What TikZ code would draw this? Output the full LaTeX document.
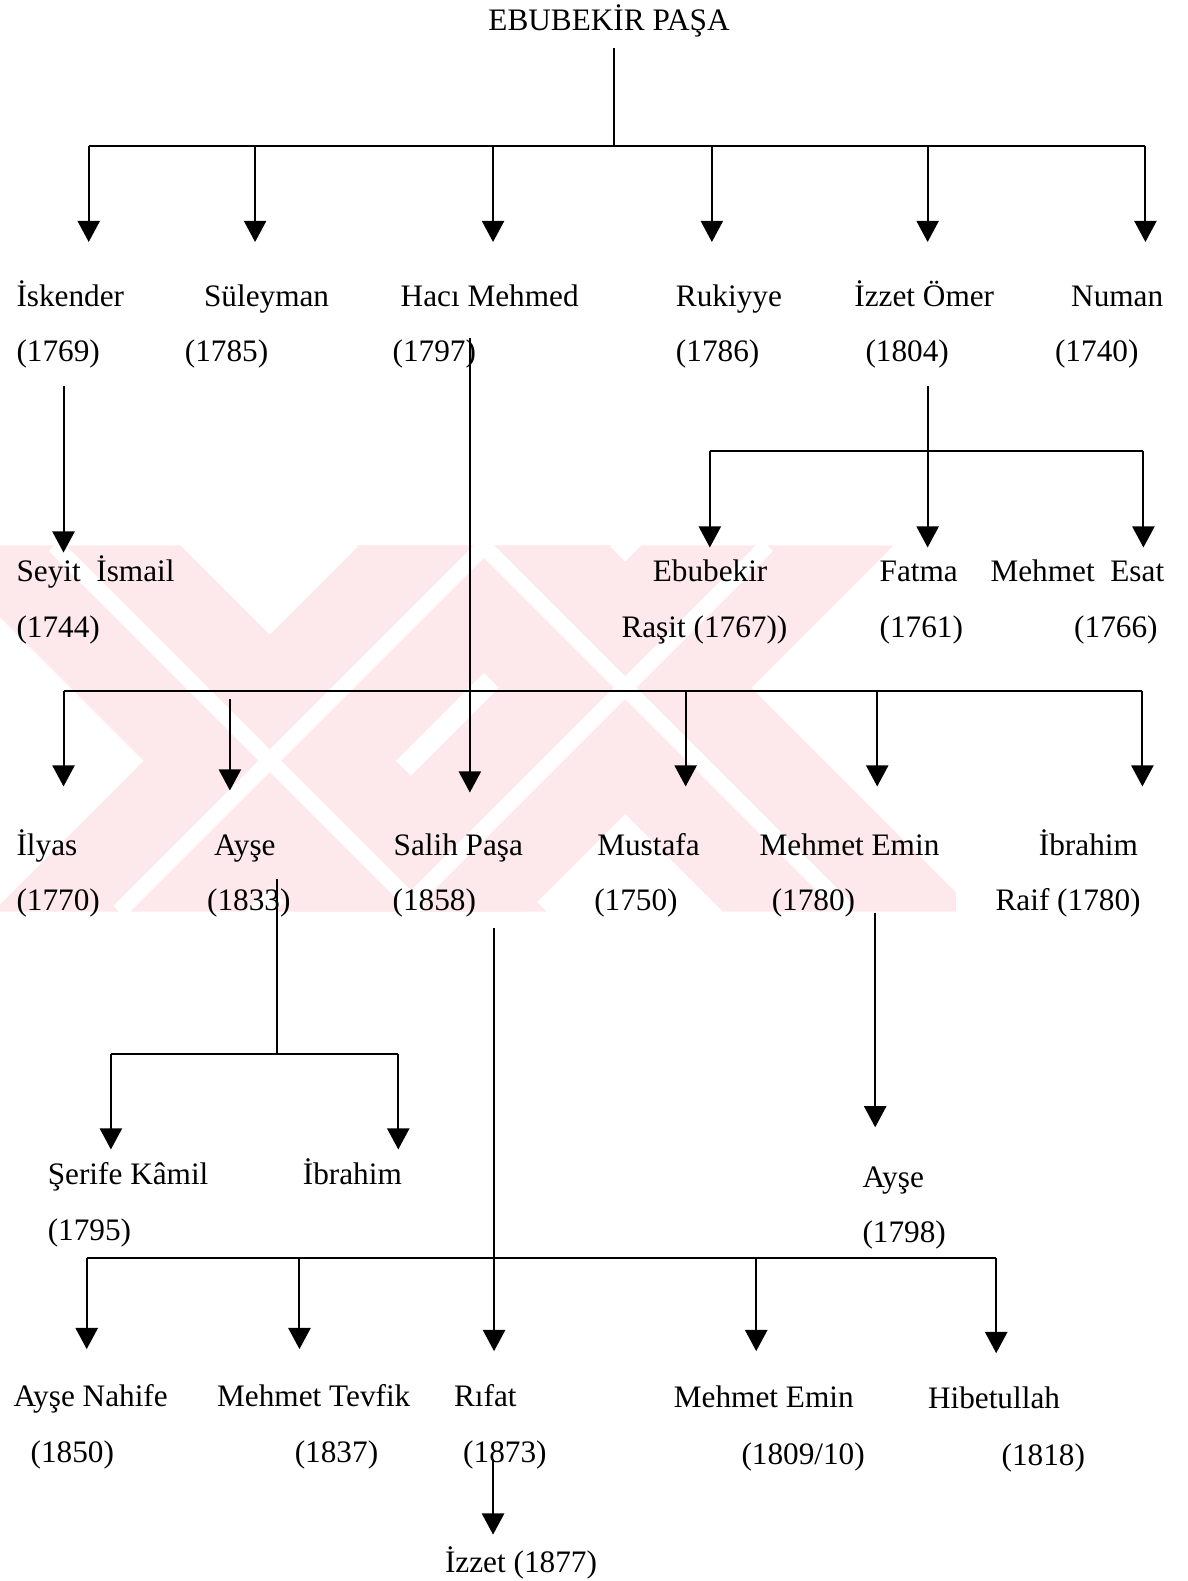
\documentclass[tikz,border=0pt]{standalone}
\usepackage{fontspec}
\setmainfont{Liberation Serif}
\usetikzlibrary{arrows.meta}

\begin{document}
\begin{tikzpicture}[x=0.5pt,y=-0.5pt]
\tikzstyle{every node}=[inner sep=0pt,anchor=base west,font=\fontsize{15.5}{18}\selectfont]
\tikzstyle{link}=[line width=1pt]
\tikzstyle{kid}=[link,-{Triangle[length=10.5pt,width=11pt]}]
\definecolor{wmpink}{RGB}{253,232,236}
\tikzstyle{wm}=[fill=wmpink]
\tikzstyle{wmgap}=[white,line width=8pt]
\useasboundingbox (0,0) rectangle (1178,1568);

\begin{scope}
\clip (0,541) rectangle (948,904);
\fill[wm] (-71,541) -- (179,541) -- (542,904) -- (292,904) -- cycle;
\fill[wm] (356,541) -- (606,541) -- (243,904) -- (-7,904) -- cycle;
\fill[wm] (354,541) -- (604,541) -- (967,904) -- (717,904) -- cycle;
\fill[wm] (636,541) -- (886,541) -- (523,904) -- (273,904) -- cycle;
\draw[wmgap] (54,541) -- (417,904);
\draw[wmgap] (481,541) -- (118,904);
\draw[wmgap] (479,541) -- (842,904);
\draw[wmgap] (761,541) -- (398,904);
\end{scope}

\node (root) at (484,30) {EBUBEKİR PAŞA};

\node (isk) at (16,304) {İskender};
\node (iskY) at (16,359) {(1769)};
\node (sul) at (202,304) {Süleyman};
\node (sulY) at (183,359) {(1785)};
\node (hac) at (397,304) {Hacı Mehmed};
\node (hacY) at (389,359) {(1797)};
\node (ruk) at (670,304) {Rukiyye};
\node (rukY) at (670,359) {(1786)};
\node (izo) at (847,304) {İzzet Ömer};
\node (izoY) at (858,359) {(1804)};
\node (num) at (1062,304) {Numan};
\node (numY) at (1046,359) {(1740)};

\node (sey) at (16,577) {Seyit\ \ İsmail};
\node (seyY) at (16,632) {(1744)};
\node (ebu) at (647,577) {Ebubekir};
\node (ebuY) at (616,632) {Raşit (1767))};
\node (fat) at (872,577) {Fatma};
\node (fatY) at (872,632) {(1761)};
\node (esa) at (982,577) {Mehmet\ \ Esat};
\node (esaY) at (1065,632) {(1766)};

\node (ily) at (16,848) {İlyas};
\node (ilyY) at (16,903) {(1770)};
\node (ay1) at (212,848) {Ayşe};
\node (ay1Y) at (205,903) {(1833)};
\node (sal) at (390,848) {Salih Paşa};
\node (salY) at (389,903) {(1858)};
\node (mus) at (592,848) {Mustafa};
\node (musY) at (589,903) {(1750)};
\node (mem) at (753,848) {Mehmet Emin};
\node (memY) at (765,903) {(1780)};
\node (ibr) at (1030,848) {İbrahim};
\node (ibrY) at (987,903) {Raif (1780)};

\node (ser) at (47,1175) {Şerife Kâmil};
\node (serY) at (47,1230) {(1795)};
\node (ib2) at (300,1175) {İbrahim};
\node (ay2) at (855,1178) {Ayşe};
\node (ay2Y) at (855,1232) {(1798)};

\node (nah) at (13,1395) {Ayşe Nahife};
\node (nahY) at (30,1450) {(1850)};
\node (tev) at (215,1395) {Mehmet Tevfik};
\node (tevY) at (292,1450) {(1837)};
\node (rif) at (450,1395) {Rıfat};
\node (rifY) at (459,1450) {(1873)};
\node (me2) at (668,1396) {Mehmet Emin};
\node (me2Y) at (735,1452) {(1809/10)};
\node (hib) at (920,1397) {Hibetullah};
\node (hibY) at (993,1453) {(1818)};
\node (izz) at (441,1560) {İzzet (1877)};

\coordinate (root-out) at (609,48);
\coordinate (b1) at (609,145);
\coordinate (isk-in) at (88,240);
\coordinate (sul-in) at (253,240);
\coordinate (hac-in) at (489,240);
\coordinate (ruk-in) at (706,240);
\coordinate (izo-in) at (920,240);
\coordinate (num-in) at (1136,240);
\draw[link] (root-out) -- (b1);
\draw[link] (isk-in |- b1) -- (num-in |- b1);
\foreach \n in {isk,sul,hac,ruk,izo,num}
  \draw[kid] (\n-in |- b1) -- (\n-in);

\coordinate (isk-out) at (63,383);
\coordinate (sey-in) at (63,548);
\draw[kid] (isk-out) -- (sey-in);
\coordinate (hac-out) at (466,335);
\coordinate (sal-in) at (466,786);
\draw[kid] (hac-out) -- (sal-in);

\coordinate (izo-out) at (920,383);
\coordinate (b2) at (920,447);
\coordinate (ebu-in) at (704,543);
\coordinate (fat-in) at (920,543);
\coordinate (esa-in) at (1134,543);
\draw[link] (izo-out) -- (b2);
\draw[link] (ebu-in |- b2) -- (esa-in |- b2);
\foreach \n in {ebu,fat,esa}
  \draw[kid] (\n-in |- b2) -- (\n-in);

\coordinate (b3) at (63,685);
\coordinate (ily-in) at (63,780);
\coordinate (ay1-in) at (228,784);
\coordinate (mus-in) at (680,780);
\coordinate (mem-in) at (870,780);
\coordinate (ibr-in) at (1133,780);
\draw[link] (ily-in |- b3) -- (ibr-in |- b3);
\foreach \n in {ily,mus,mem,ibr}
  \draw[kid] (\n-in |- b3) -- (\n-in);
\draw[kid] ([yshift=-4]ay1-in |- b3) -- (ay1-in);

\coordinate (ay1-out) at (275,872);
\coordinate (b4) at (275,1045);
\coordinate (ser-in) at (110,1140);
\coordinate (ib2-in) at (395,1140);
\draw[link] (ay1-out) -- (b4);
\draw[link] (ser-in |- b4) -- (ib2-in |- b4);
\foreach \n in {ser,ib2}
  \draw[kid] (\n-in |- b4) -- (\n-in);

\coordinate (sal-out) at (490,920);
\coordinate (rif-in) at (490,1340);
\draw[kid] (sal-out) -- (rif-in);
\coordinate (mem-out) at (868,905);
\coordinate (ay2-in) at (868,1118);
\draw[kid] (mem-out) -- (ay2-in);

\coordinate (b5) at (86,1248);
\coordinate (nah-in) at (86,1338);
\coordinate (tev-in) at (297,1338);
\coordinate (me2-in) at (750,1340);
\coordinate (hib-in) at (988,1342);
\draw[link] (nah-in |- b5) -- (hib-in |- b5);
\foreach \n in {nah,tev,me2,hib}
  \draw[kid] (\n-in |- b5) -- (\n-in);

\coordinate (rif-out) at (489,1447);
\coordinate (izz-in) at (489,1522);
\draw[kid] (rif-out) -- (izz-in);
\end{tikzpicture}
\end{document}
